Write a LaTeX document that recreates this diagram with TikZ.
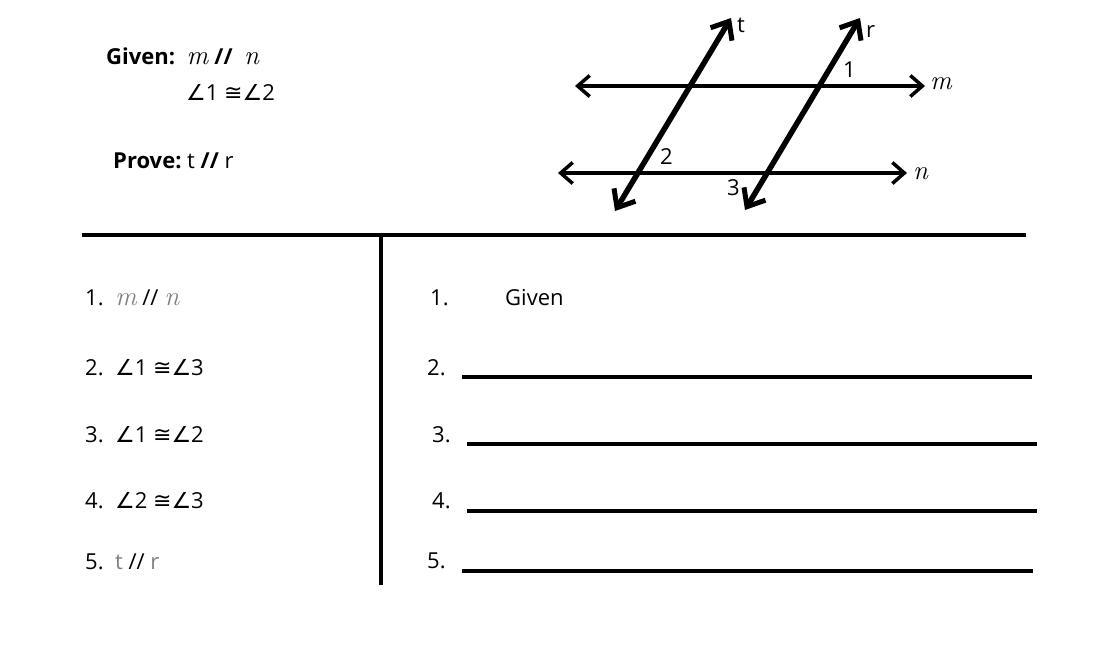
\documentclass[tikz,border=0pt]{standalone}
\usepackage{fontspec}
\setmainfont{Open Sans}
\newfontfamily\symfont{DejaVu Sans}
\newfontfamily\itfont{Latin Modern Roman}
\usetikzlibrary{arrows.meta}
\newcommand{\angsym}{{\symfont\char"2220}}
\newcommand{\congsym}{{\symfont\char"2245}}
\newcommand{\linm}{{\itfont\itshape\fontsize{27}{27}\selectfont m}}
\newcommand{\linn}{{\itfont\itshape\fontsize{27}{27}\selectfont n}}
\tikzset{
  txt/.style={anchor=base west,inner sep=0pt,font=\fontsize{22}{26}\selectfont},
  trans/.style={line width=5.5pt,{Straight Barb[length=15pt,width=25pt,line width=5pt]}-{Straight Barb[length=15pt,width=25pt,line width=5pt]}},
  par/.style={line width=3.5pt,{Straight Barb[length=12pt,width=21pt,line width=3.5pt]}-{Straight Barb[length=12pt,width=21pt,line width=3.5pt]}},
  blank/.style={line width=3.5pt}
}
\begin{document}
\begin{tikzpicture}[x=1pt,y=-1pt]
\useasboundingbox[fill=white] (0,0) rectangle (1094,655);
% figure
\coordinate (m1) at (575,86);
\coordinate (m2) at (925,86);
\coordinate (n1) at (558,173);
\coordinate (n2) at (907,173);
\coordinate (t1) at (615,211);
\coordinate (t2) at (731,18);
\coordinate (r1) at (745,210);
\coordinate (r2) at (860,18);
\draw[par] (m1) -- (m2);
\draw[par] (n1) -- (n2);
\draw[trans] (t1) -- (t2);
\draw[trans] (r1) -- (r2);
\node[txt] (lm) at (930,90) {\linm};
\node[txt] (lnn) at (913,180) {\linn};
\node[txt] (lt) at (737,33) {t};
\node[txt] (lr) at (866,38) {r};
\node[txt] (a1) at (843,78) {1};
\node[txt] (a2) at (660,165) {2};
\node[txt] (a3) at (727,196) {3};
% given and prove
\node[txt] (given) at (106,65) {\textbf{Given:}\ \ \linm\ \textbf{//}\ \ \linn};
\node[txt] (given2) at (186,101) {\angsym1 \congsym\angsym2};
\node[txt] (prove) at (113,168) {\textbf{Prove:}\ t \textbf{//} r};
% table
\coordinate (h1) at (82,235);
\coordinate (h2) at (1026,235);
\coordinate (v1) at (381,237);
\coordinate (v2) at (381,585);
\draw[line width=3.5pt] (h1) -- (h2);
\draw[line width=3.5pt] (v1) -- (v2);
% statements
\node[txt] (s1) at (85,305) {1.\ \ \textcolor{gray}{\linm} // \textcolor{gray}{\linn}};
\node[txt] (s2) at (85,375) {2.\ \ \angsym1 \congsym\angsym3};
\node[txt] (s3) at (85,442) {3.\ \ \angsym1 \congsym\angsym2};
\node[txt] (s4) at (85,508) {4.\ \ \angsym2 \congsym\angsym3};
\node[txt] (s5) at (85,569) {5.\ \ \textcolor{gray}{t} // \textcolor{gray}{r}};
% reasons
\node[txt] (r1n) at (430,305) {1.};
\node[txt] (rg) at (505,305) {Given};
\node[txt] (r2n) at (427,375) {2.};
\node[txt] (r3n) at (432,442) {3.};
\node[txt] (r4n) at (432,508) {4.};
\node[txt] (r5n) at (427,568) {5.};
\coordinate (b2a) at (462,377); \coordinate (b2b) at (1032,377);
\coordinate (b3a) at (467,444); \coordinate (b3b) at (1037,444);
\coordinate (b4a) at (467,511); \coordinate (b4b) at (1037,511);
\coordinate (b5a) at (462,571); \coordinate (b5b) at (1033,571);
\draw[blank] (b2a) -- (b2b);
\draw[blank] (b3a) -- (b3b);
\draw[blank] (b4a) -- (b4b);
\draw[blank] (b5a) -- (b5b);
\end{tikzpicture}
\end{document}
